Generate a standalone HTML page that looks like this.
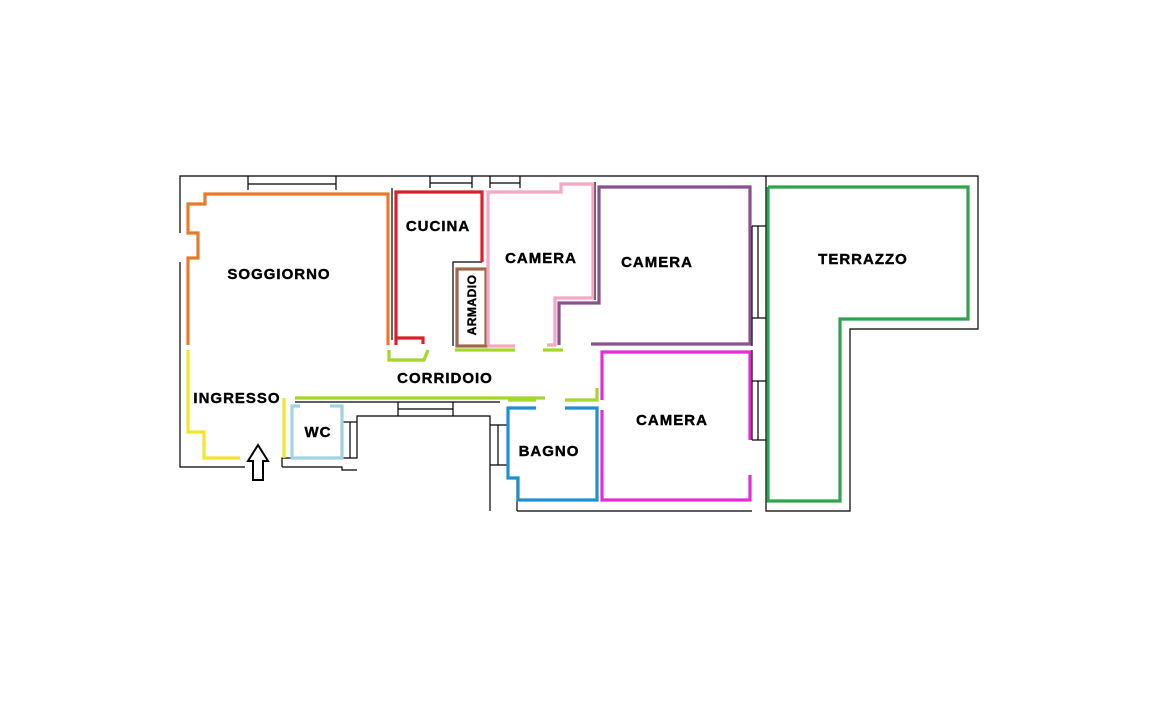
<!DOCTYPE html>
<html><head><style>
html,body{margin:0;padding:0;background:#fff;}
svg{display:block;}
text{font-family:"Liberation Sans",Arial,sans-serif;font-weight:bold;font-size:15px;fill:#000;letter-spacing:1px;stroke:#000;stroke-width:0.4;}
</style></head><body>
<svg width="1174" height="705" viewBox="0 0 1174 705" xmlns="http://www.w3.org/2000/svg">
<g fill="none" stroke="#000" stroke-width="1.2">
 <polyline points="180,233 180,176 978,176 978,329 850,329 850,511 766,511 766,176"/>
 <polyline points="180,262 180,467 245,467"/>
 <polyline points="282,467 282,458 357,458 357,416 490,416 490,511"/>
 <polyline points="282,467 342,467 342,470 357,470"/>
 <line x1="517" y1="511" x2="752" y2="511"/>
 <line x1="248" y1="176" x2="248" y2="190"/><line x1="336" y1="176" x2="336" y2="190"/><line x1="248" y1="184" x2="336" y2="184"/>
 <line x1="430" y1="176" x2="430" y2="188"/><line x1="472" y1="176" x2="472" y2="188"/><line x1="430" y1="183" x2="472" y2="183"/>
 <line x1="490" y1="176" x2="490" y2="188"/><line x1="520" y1="176" x2="520" y2="188"/><line x1="490" y1="183" x2="520" y2="183"/>
 <line x1="752" y1="226" x2="766" y2="226"/><line x1="752" y1="318" x2="766" y2="318"/><line x1="758" y1="226" x2="758" y2="318"/>
 <line x1="752" y1="381" x2="766" y2="381"/><line x1="752" y1="440" x2="766" y2="440"/><line x1="758" y1="381" x2="758" y2="440"/>
 <line x1="752" y1="226" x2="752" y2="346"/><line x1="752" y1="350" x2="752" y2="440"/>
 <line x1="398" y1="402" x2="398" y2="416"/><line x1="453" y1="402" x2="453" y2="416"/><line x1="398" y1="409" x2="453" y2="409"/>
 <line x1="295" y1="402" x2="500" y2="402"/>
 <line x1="342" y1="422" x2="357" y2="422"/><line x1="350" y1="422" x2="350" y2="458"/>
 <line x1="490" y1="425" x2="508" y2="425"/><line x1="490" y1="465" x2="508" y2="465"/><line x1="498" y1="425" x2="498" y2="465"/>
 <line x1="517" y1="478" x2="517" y2="511"/>
 <polyline points="453,346 453,262 482,262"/>
 <line x1="392" y1="188" x2="392" y2="340"/>
 <line x1="595" y1="182" x2="595" y2="300"/>
</g>
<g fill="none" stroke-width="3.2" stroke-linejoin="miter">
 <polyline stroke="#e87a2e" points="188,345 188,258 198,258 198,233 188,233 188,204 205,204 205,194 388,194 388,345"/>
 <polyline stroke="#d9212a" points="396,345 396,192 482,192 482,262"/>
 <polyline stroke="#d9212a" points="396,338 423,338 423,344"/>
 <rect stroke="#a0684a" x="457" y="269" width="29" height="77"/>
 <polyline stroke="#f4a8c4" points="488,345 488,192 561,192 561,184 593,184 593,298 555,298 555,345 547,345"/>
 <line stroke="#f4a8c4" x1="488" y1="346" x2="515" y2="346"/>
 <polyline stroke="#8c4f8f" points="559,345 559,303 599,303 599,187 750,187 750,344 591,344"/>
 <polyline stroke="#e32ed6" points="602,400 602,352 750,352 750,440"/>
 <polyline stroke="#e32ed6" points="750,475 750,500 602,500 602,410"/>
 <polyline stroke="#1e90d0" points="536,408 508,408 508,478 518,478 518,500 597,500 597,408 565,408"/>
 <polyline stroke="#a5d62a" points="455,350 515,350"/>
 <polyline stroke="#a5d62a" points="543,350 563,350"/>
 <polyline stroke="#a5d62a" points="389,350 389,360 424,360 428,350"/>
 <polyline stroke="#a5d62a" points="295,398 545,398"/>
 <polyline stroke="#a5d62a" points="508,400 536,400"/>
 <polyline stroke="#a5d62a" points="565,400 597,400 597,388"/>
 <polyline stroke="#f5e52a" points="188,350 188,432 204,432 204,458 240,458"/>
 <polyline stroke="#f5e52a" points="284,398 284,458"/>
 <polyline stroke="#9fd4e4" points="300,406 292,406 292,458 342,458 342,406 330,406"/>
 <polyline stroke="#2ea44f" points="768,187 968,187 968,319 840,319 840,501 768,501 768,187"/>
</g>
<polygon points="258,445 248,461 253,461 253,480 263,480 263,461 268,461" fill="#fff" stroke="#000" stroke-width="2"/>
<text x="279" y="279" text-anchor="middle">SOGGIORNO</text>
<text x="438" y="231" text-anchor="middle">CUCINA</text>
<text x="541" y="263" text-anchor="middle">CAMERA</text>
<text x="657" y="267" text-anchor="middle">CAMERA</text>
<text x="672" y="425" text-anchor="middle">CAMERA</text>
<text x="863" y="264" text-anchor="middle">TERRAZZO</text>
<text x="237" y="403" text-anchor="middle">INGRESSO</text>
<text x="445" y="383" text-anchor="middle">CORRIDOIO</text>
<text x="318" y="437" text-anchor="middle">WC</text>
<text x="549" y="456" text-anchor="middle">BAGNO</text>
<text x="0" y="0" text-anchor="middle" transform="translate(476,305) rotate(-90)" style="font-size:12px;letter-spacing:0.5px">ARMADIO</text>
</svg>
</body></html>
